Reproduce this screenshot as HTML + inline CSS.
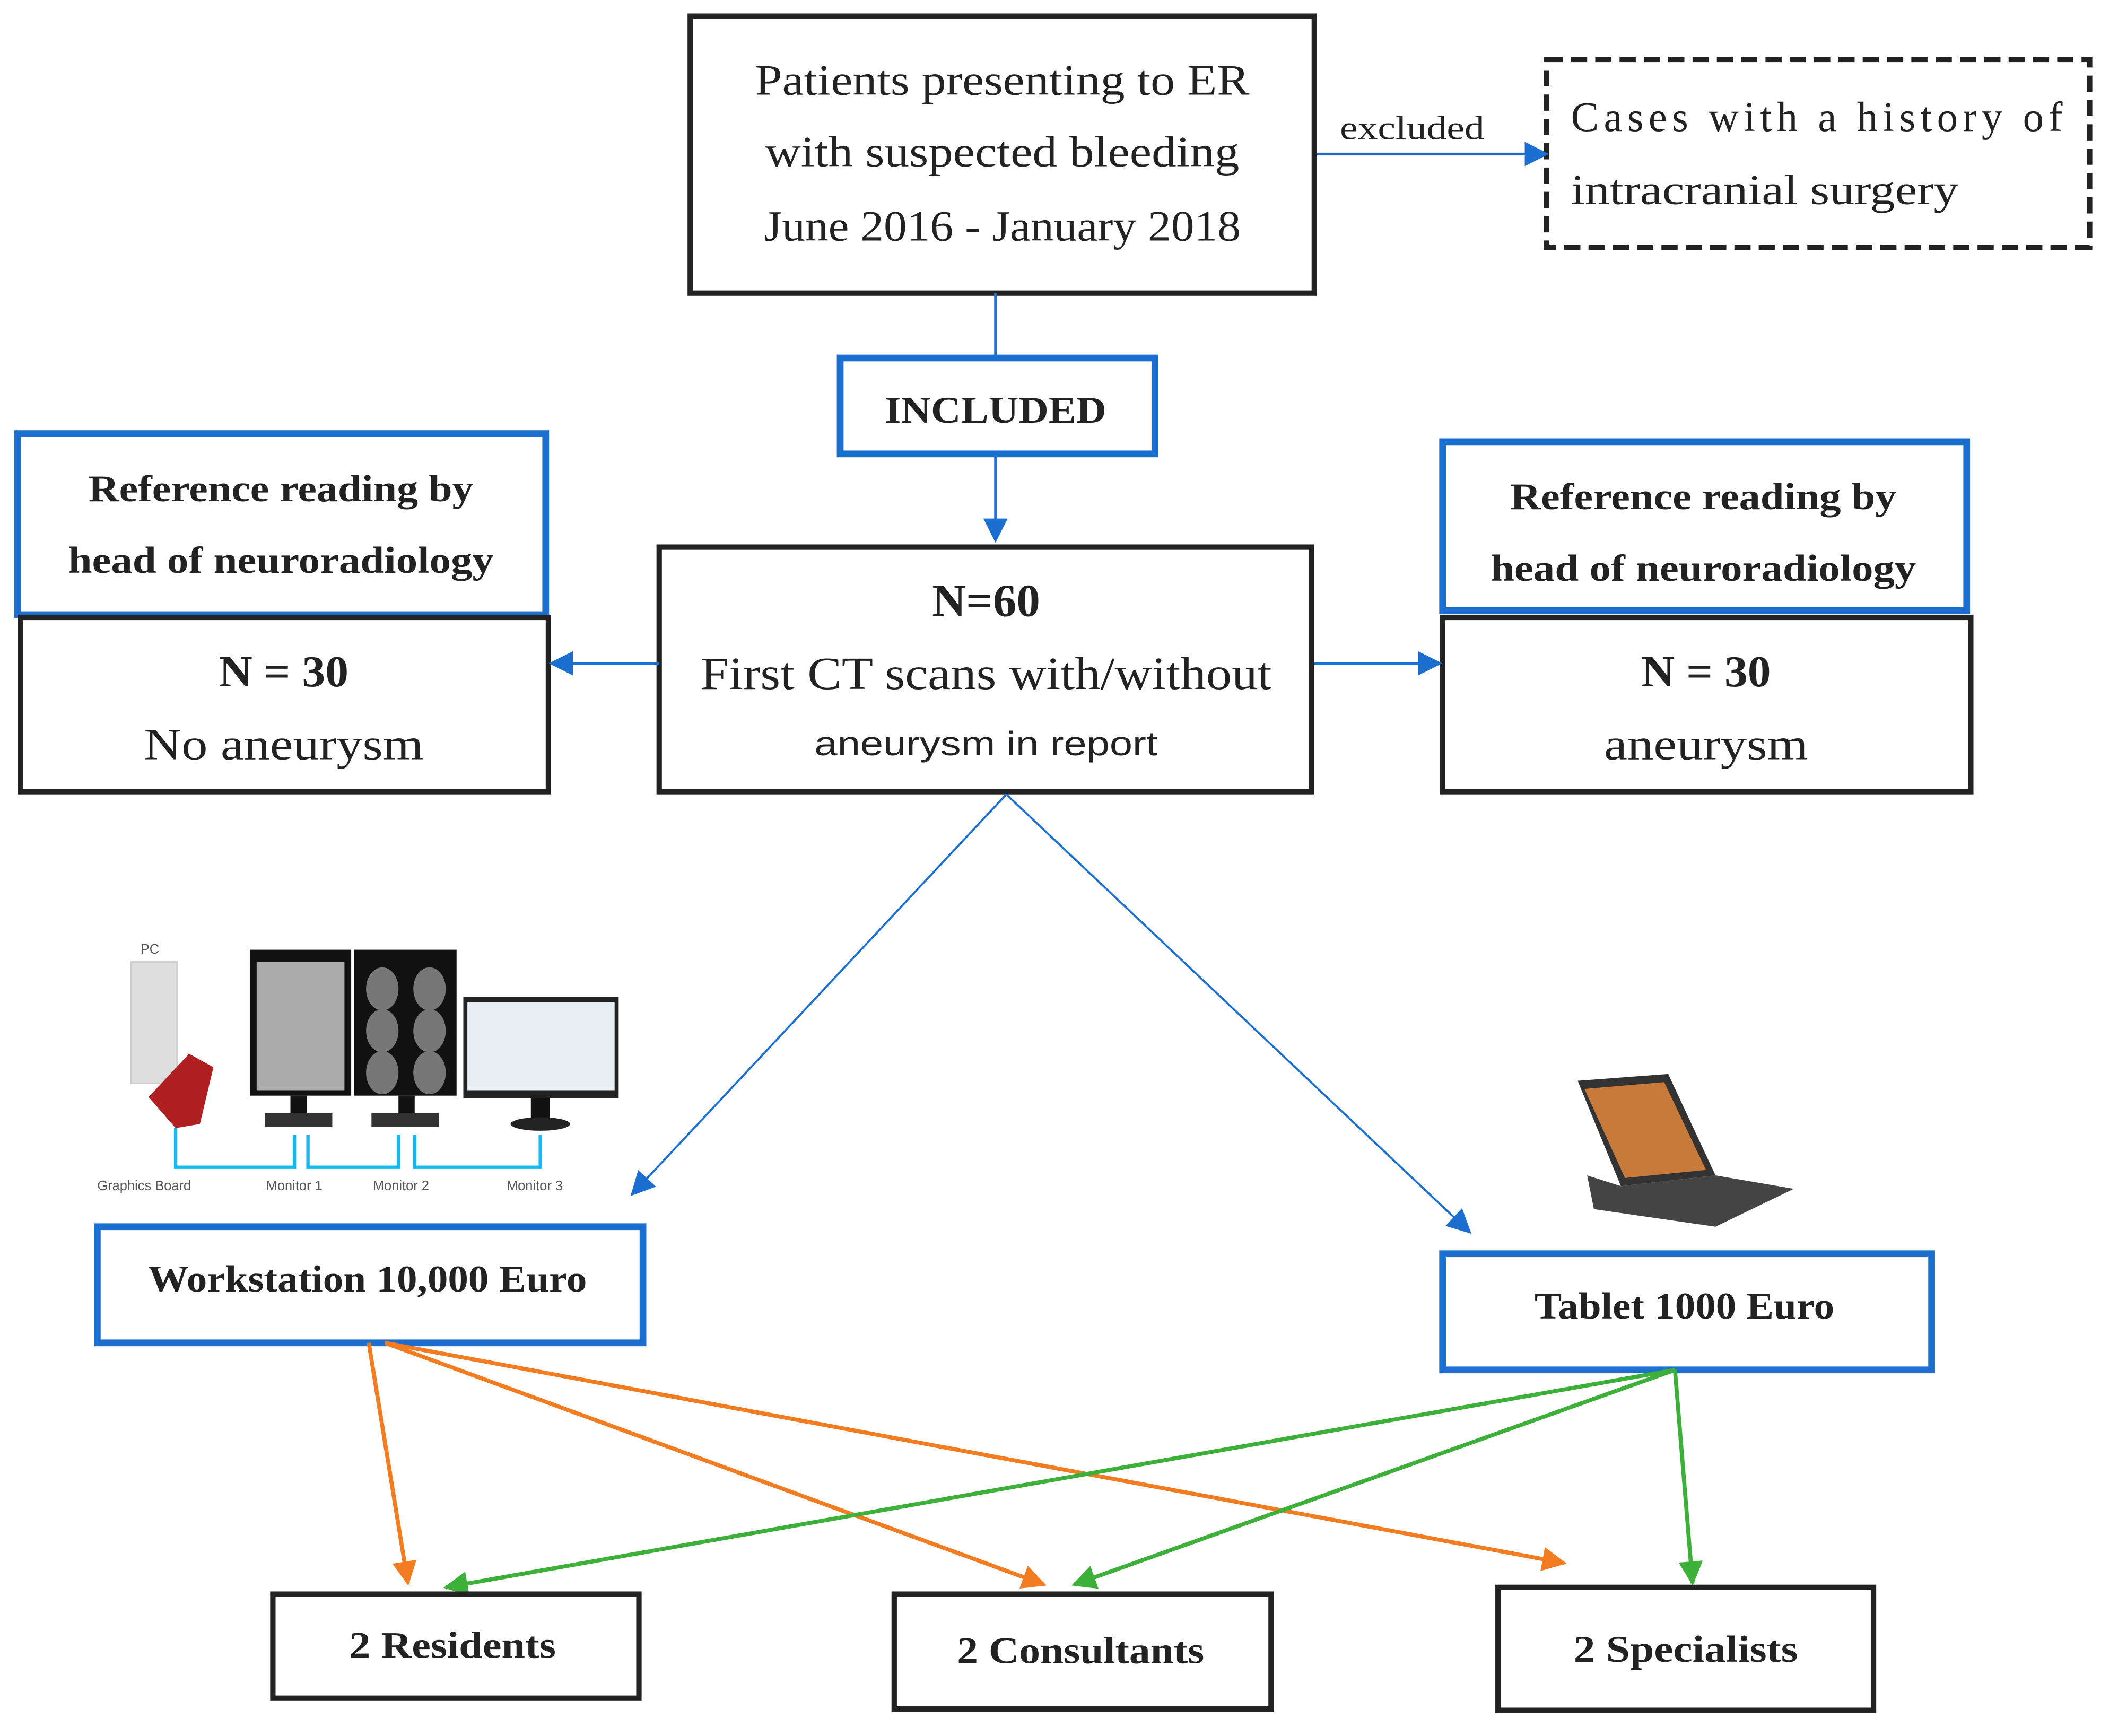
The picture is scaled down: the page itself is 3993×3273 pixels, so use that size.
<!DOCTYPE html>
<html><head><meta charset="utf-8"><style>
html,body{margin:0;padding:0;background:#fff}
svg{display:block}
.s{font-family:"Liberation Serif",serif;fill:#222}
.b{font-weight:bold}
</style></head><body>
<svg width="3993" height="3273" viewBox="0 0 1568 1285" preserveAspectRatio="none" xmlns="http://www.w3.org/2000/svg">
<defs>
<marker id="bl" viewBox="0 0 10 10" markerWidth="18" markerHeight="18" refX="9" refY="5" orient="auto" markerUnits="userSpaceOnUse"><path d="M0,0 L10,5 L0,10 z" fill="#1a6fd0"/></marker>
<marker id="or" viewBox="0 0 10 10" markerWidth="18" markerHeight="18" refX="9" refY="5" orient="auto" markerUnits="userSpaceOnUse"><path d="M0,0 L10,5 L0,10 z" fill="#f47c20"/></marker>
<marker id="gr" viewBox="0 0 10 10" markerWidth="18" markerHeight="18" refX="9" refY="5" orient="auto" markerUnits="userSpaceOnUse"><path d="M0,0 L10,5 L0,10 z" fill="#3db03a"/></marker>
</defs>
<rect width="1568" height="1285" fill="#fff"/>
<rect x="511" y="12" width="462" height="205" fill="none" stroke="#222" stroke-width="4"/>
<g class="s" font-size="32" text-anchor="middle">
<text x="742" y="70" textLength="366" lengthAdjust="spacingAndGlyphs">Patients presenting to ER</text>
<text x="742" y="123" textLength="351" lengthAdjust="spacingAndGlyphs">with suspected bleeding</text>
<text x="742" y="178" textLength="353" lengthAdjust="spacingAndGlyphs">June 2016 - January 2018</text>
</g>
<rect x="1145" y="44" width="402" height="139" fill="none" stroke="#222" stroke-width="4" stroke-dasharray="12,6"/>
<g class="s" font-size="31">
<text x="1163" y="97" textLength="364" lengthAdjust="spacing">Cases with a history of</text>
<text x="1163" y="151" textLength="287" lengthAdjust="spacingAndGlyphs">intracranial surgery</text>
</g>
<text class="s" x="992" y="103" font-size="25" textLength="107" lengthAdjust="spacingAndGlyphs">excluded</text>
<line x1="975" y1="114" x2="1145" y2="114" stroke="#1a6fd0" stroke-width="2" marker-end="url(#bl)"/>
<line x1="737" y1="217" x2="737" y2="265" stroke="#1a6fd0" stroke-width="2"/>
<rect x="622" y="265" width="233" height="71" fill="none" stroke="#1a6fd0" stroke-width="5"/>
<text class="s b" x="737" y="313" font-size="28" text-anchor="middle" textLength="164" lengthAdjust="spacingAndGlyphs">INCLUDED</text>
<line x1="737" y1="336" x2="737" y2="400" stroke="#1a6fd0" stroke-width="2" marker-end="url(#bl)"/>
<rect x="488" y="405" width="483" height="181" fill="none" stroke="#222" stroke-width="4"/>
<g class="s" text-anchor="middle">
<text x="730" y="456" font-size="34" class="s b" textLength="80" lengthAdjust="spacingAndGlyphs">N=60</text>
<text x="730" y="510" font-size="34" textLength="423" lengthAdjust="spacingAndGlyphs">First CT scans with/without</text>
<text x="730" y="559" font-size="25" font-family="Liberation Sans,sans-serif" textLength="254" lengthAdjust="spacingAndGlyphs">aneurysm in report</text>
</g>
<rect x="13" y="321" width="391" height="134" fill="none" stroke="#1a6fd0" stroke-width="5"/>
<g class="s b" font-size="28" text-anchor="middle">
<text x="208" y="371" textLength="285" lengthAdjust="spacingAndGlyphs">Reference reading by</text>
<text x="208" y="424" textLength="315" lengthAdjust="spacingAndGlyphs">head of neuroradiology</text>
</g>
<rect x="15" y="457" width="391" height="129" fill="none" stroke="#222" stroke-width="4"/>
<text class="s b" x="210" y="508" font-size="33" text-anchor="middle" textLength="96" lengthAdjust="spacingAndGlyphs">N = 30</text>
<text class="s" x="210" y="562" font-size="33" text-anchor="middle" textLength="207" lengthAdjust="spacingAndGlyphs">No aneurysm</text>
<rect x="1068" y="327" width="388" height="125" fill="none" stroke="#1a6fd0" stroke-width="5"/>
<g class="s b" font-size="28" text-anchor="middle">
<text x="1261" y="377" textLength="286" lengthAdjust="spacingAndGlyphs">Reference reading by</text>
<text x="1261" y="430" textLength="315" lengthAdjust="spacingAndGlyphs">head of neuroradiology</text>
</g>
<rect x="1068" y="457" width="391" height="129" fill="none" stroke="#222" stroke-width="4"/>
<text class="s b" x="1263" y="508" font-size="33" text-anchor="middle" textLength="96" lengthAdjust="spacingAndGlyphs">N = 30</text>
<text class="s" x="1263" y="562" font-size="33" text-anchor="middle" textLength="151" lengthAdjust="spacingAndGlyphs">aneurysm</text>
<line x1="488" y1="491" x2="408" y2="491" stroke="#1a6fd0" stroke-width="2" marker-end="url(#bl)"/>
<line x1="973" y1="491" x2="1066" y2="491" stroke="#1a6fd0" stroke-width="2" marker-end="url(#bl)"/>
<line x1="745" y1="588" x2="468" y2="884" stroke="#1a6fd0" stroke-width="1.5" marker-end="url(#bl)"/>
<line x1="745" y1="588" x2="1088" y2="912" stroke="#1a6fd0" stroke-width="1.5" marker-end="url(#bl)"/>
<g>
<text x="104" y="706" font-size="10" font-family="Liberation Sans,sans-serif" fill="#555">PC</text>
<rect x="97" y="712" width="34" height="90" fill="#ddd" stroke="#ccc"/>
<polygon points="110,812 140,780 158,790 148,832 130,835" fill="#b02020"/>
<rect x="185" y="703" width="75" height="108" fill="#111"/><rect x="190" y="712" width="65" height="95" fill="#aaa"/>
<rect x="215" y="811" width="12" height="15" fill="#111"/><rect x="196" y="824" width="50" height="10" fill="#333"/>
<rect x="262" y="703" width="76" height="108" fill="#111"/>
<g fill="#777"><ellipse cx="283" cy="732" rx="12" ry="16"/><ellipse cx="318" cy="732" rx="12" ry="16"/><ellipse cx="283" cy="763" rx="12" ry="16"/><ellipse cx="318" cy="763" rx="12" ry="16"/><ellipse cx="283" cy="794" rx="12" ry="16"/><ellipse cx="318" cy="794" rx="12" ry="16"/></g>
<rect x="295" y="811" width="12" height="15" fill="#111"/><rect x="275" y="824" width="50" height="10" fill="#333"/>
<rect x="343" y="738" width="115" height="75" fill="#222"/><rect x="346" y="742" width="109" height="65" fill="#e8eef4"/>
<rect x="393" y="813" width="14" height="17" fill="#111"/><ellipse cx="400" cy="832" rx="22" ry="5" fill="#222"/>
<path d="M130,835 V864 H218 V840 M228,840 V864 H295 V840 M307,840 V864 H400 V840" fill="none" stroke="#14b8f0" stroke-width="2.5"/>
<g font-size="10" font-family="Liberation Sans,sans-serif" fill="#555">
<text x="72" y="881">Graphics Board</text><text x="197" y="881">Monitor 1</text><text x="276" y="881">Monitor 2</text><text x="375" y="881">Monitor 3</text></g>
</g>
<g>
<polygon points="1168,800 1235,795 1270,870 1200,878" fill="#333"/>
<polygon points="1173,806 1232,801 1263,866 1203,872" fill="#c87a3a"/>
<polygon points="1175,870 1200,878 1270,870 1328,880 1270,908 1180,895" fill="#444"/>
</g>
<rect x="72" y="908" width="404" height="86" fill="none" stroke="#1a6fd0" stroke-width="5"/>
<text class="s b" x="272" y="956" font-size="28" text-anchor="middle" textLength="325" lengthAdjust="spacingAndGlyphs">Workstation 10,000 Euro</text>
<rect x="1068" y="928" width="362" height="86" fill="none" stroke="#1a6fd0" stroke-width="5"/>
<text class="s b" x="1247" y="976" font-size="28" text-anchor="middle" textLength="222" lengthAdjust="spacingAndGlyphs">Tablet 1000 Euro</text>
<g stroke="#f47c20" stroke-width="3" fill="none">
<line x1="273" y1="994" x2="302" y2="1172" marker-end="url(#or)"/>
<line x1="285" y1="994" x2="773" y2="1173" marker-end="url(#or)"/>
<line x1="285" y1="994" x2="1158" y2="1157" marker-end="url(#or)"/>
</g>
<g stroke="#3db03a" stroke-width="3" fill="none">
<line x1="1240" y1="1014" x2="330" y2="1175" marker-end="url(#gr)"/>
<line x1="1240" y1="1014" x2="795" y2="1173" marker-end="url(#gr)"/>
<line x1="1240" y1="1014" x2="1253" y2="1172" marker-end="url(#gr)"/>
</g>
<rect x="202" y="1180" width="271" height="77" fill="none" stroke="#222" stroke-width="4"/>
<text class="s b" x="335" y="1227" font-size="28" text-anchor="middle" textLength="153" lengthAdjust="spacingAndGlyphs">2 Residents</text>
<rect x="662" y="1180" width="279" height="85" fill="none" stroke="#222" stroke-width="4"/>
<text class="s b" x="800" y="1231" font-size="28" text-anchor="middle" textLength="183" lengthAdjust="spacingAndGlyphs">2 Consultants</text>
<rect x="1109" y="1175" width="278" height="91" fill="none" stroke="#222" stroke-width="4"/>
<text class="s b" x="1248" y="1230" font-size="28" text-anchor="middle" textLength="166" lengthAdjust="spacingAndGlyphs">2 Specialists</text>
</svg>
</body></html>
